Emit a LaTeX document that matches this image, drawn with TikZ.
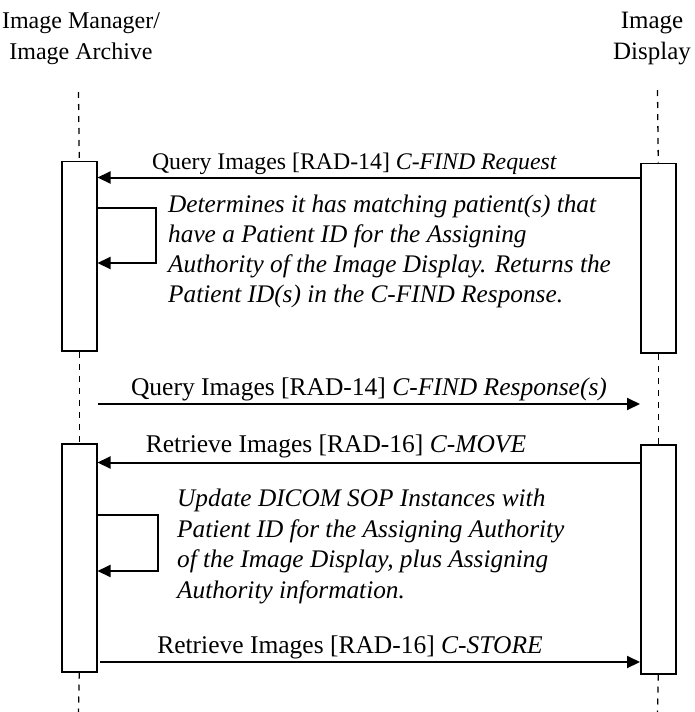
\documentclass[tikz,border=0pt]{standalone}
\usepackage{fontspec}
\setmainfont{Liberation Serif}
\usetikzlibrary{arrows.meta}
\begin{document}
\begin{tikzpicture}[x=1pt,y=-1pt,
  ttl/.style={font=\fontsize{24}{30}\selectfont, inner sep=0pt, anchor=base},
  lbl/.style={font=\fontsize{25.5}{30}\selectfont, inner sep=0pt, anchor=base},
  noteline/.style={font=\fontsize{25.3}{30}\selectfont\itshape, inner sep=0pt, anchor=base west},
  act/.style={draw, line width=1.5pt, fill=white, inner sep=0pt, minimum width=35pt, anchor=north west},
  life/.style={line width=1.3pt, dash pattern=on 6pt off 6pt},
  msg/.style={line width=2pt, -{Triangle[length=13pt,width=12pt]}},
]
\useasboundingbox (0,0) rectangle (694,712);

% titles
\node[ttl] (t1) at (81,28) {Image Manager/};
\node[ttl] (t2) at (81,59) {Image Archive};
\node[ttl, font=\fontsize{25}{30}\selectfont] (t3) at (652,28) {Image};
\node[ttl, font=\fontsize{25}{30}\selectfont] (t4) at (652,59) {Display};

% lifeline ends
\coordinate (ltop) at (78.5,92);
\coordinate (rtop) at (657.5,90);
\coordinate (lbot) at (78.5,712);
\coordinate (rbot) at (657.5,712);

% activation boxes
\node[act, minimum height=189.5pt] (L1) at (61,160.5) {};
\node[act, minimum height=189.5pt] (R1) at (640,162.5) {};
\node[act, minimum height=228pt] (L2) at (61,443) {};
\node[act, minimum height=229pt] (R2) at (640,444) {};

% lifelines
\draw[life] (ltop) -- (L1.north);
\draw[life] (L1.south) -- (L2.north);
\draw[life] (L2.south) -- (lbot);
\draw[life] (rtop) -- (R1.north);
\draw[life] (R1.south) -- (R2.north);
\draw[life] (R2.south) -- (rbot);

% boxes drawn again over the lifelines
\node[act, minimum height=189.5pt] (L1b) at (L1.north west) {};
\node[act, minimum height=189.5pt] (R1b) at (R1.north west) {};
\node[act, minimum height=228pt] (L2b) at (L2.north west) {};
\node[act, minimum height=229pt] (R2b) at (R2.north west) {};

% messages
\coordinate (a1s) at (R1.west |- 0,177.5);
\coordinate (a1e) at (L1.east |- 0,177.5);
\draw[msg] (a1s) -- (a1e);
\node[lbl, font=\fontsize{23.8}{30}\selectfont] (m1) at (354.5,169) {Query Images [RAD-14] \textit{C-FIND Request}};

\coordinate (s1a) at (L1.east |- 0,208);
\coordinate (s1b) at (156,208);
\coordinate (s1c) at (156,263);
\coordinate (s1d) at (L1.east |- 0,263);
\draw[msg] (s1a) -- (s1b) -- (s1c) -- (s1d);

\node[noteline] (n1a) at (168,212) {Determines it has matching patient(s) that};
\node[noteline] (n1b) at (168,242) {have a Patient ID for the Assigning};
\node[noteline] (n1c) at (168,272) {Authority of the Image Display. Returns the};
\node[noteline] (n1d) at (168,302) {Patient ID(s) in the C-FIND Response.};

\coordinate (a2s) at (98,404);
\coordinate (a2e) at (R1.west |- 0,404);
\draw[msg] (a2s) -- (a2e);
\node[lbl] (m2) at (369,395) {Query Images [RAD-14] \textit{C-FIND Response(s)}};

\coordinate (a3s) at (R2.west |- 0,462.5);
\coordinate (a3e) at (L2.east |- 0,462.5);
\draw[msg] (a3s) -- (a3e);
\node[lbl] (m3) at (336,452) {Retrieve Images [RAD-16] \textit{C-MOVE}};

\coordinate (s2a) at (L2.east |- 0,515);
\coordinate (s2b) at (157.5,515);
\coordinate (s2c) at (157.5,571);
\coordinate (s2d) at (L2.east |- 0,571);
\draw[msg] (s2a) -- (s2b) -- (s2c) -- (s2d);

\node[noteline] (n2a) at (177,506) {Update DICOM SOP Instances with};
\node[noteline] (n2b) at (177,537) {Patient ID for the Assigning Authority};
\node[noteline] (n2c) at (177,567) {of the Image Display, plus Assigning};
\node[noteline] (n2d) at (177,598) {Authority information.};

\coordinate (a4s) at (100,662);
\coordinate (a4e) at (R2.west |- 0,662);
\draw[msg] (a4s) -- (a4e);
\node[lbl] (m4) at (350,653) {Retrieve Images [RAD-16] \textit{C-STORE}};
\end{tikzpicture}
\end{document}
